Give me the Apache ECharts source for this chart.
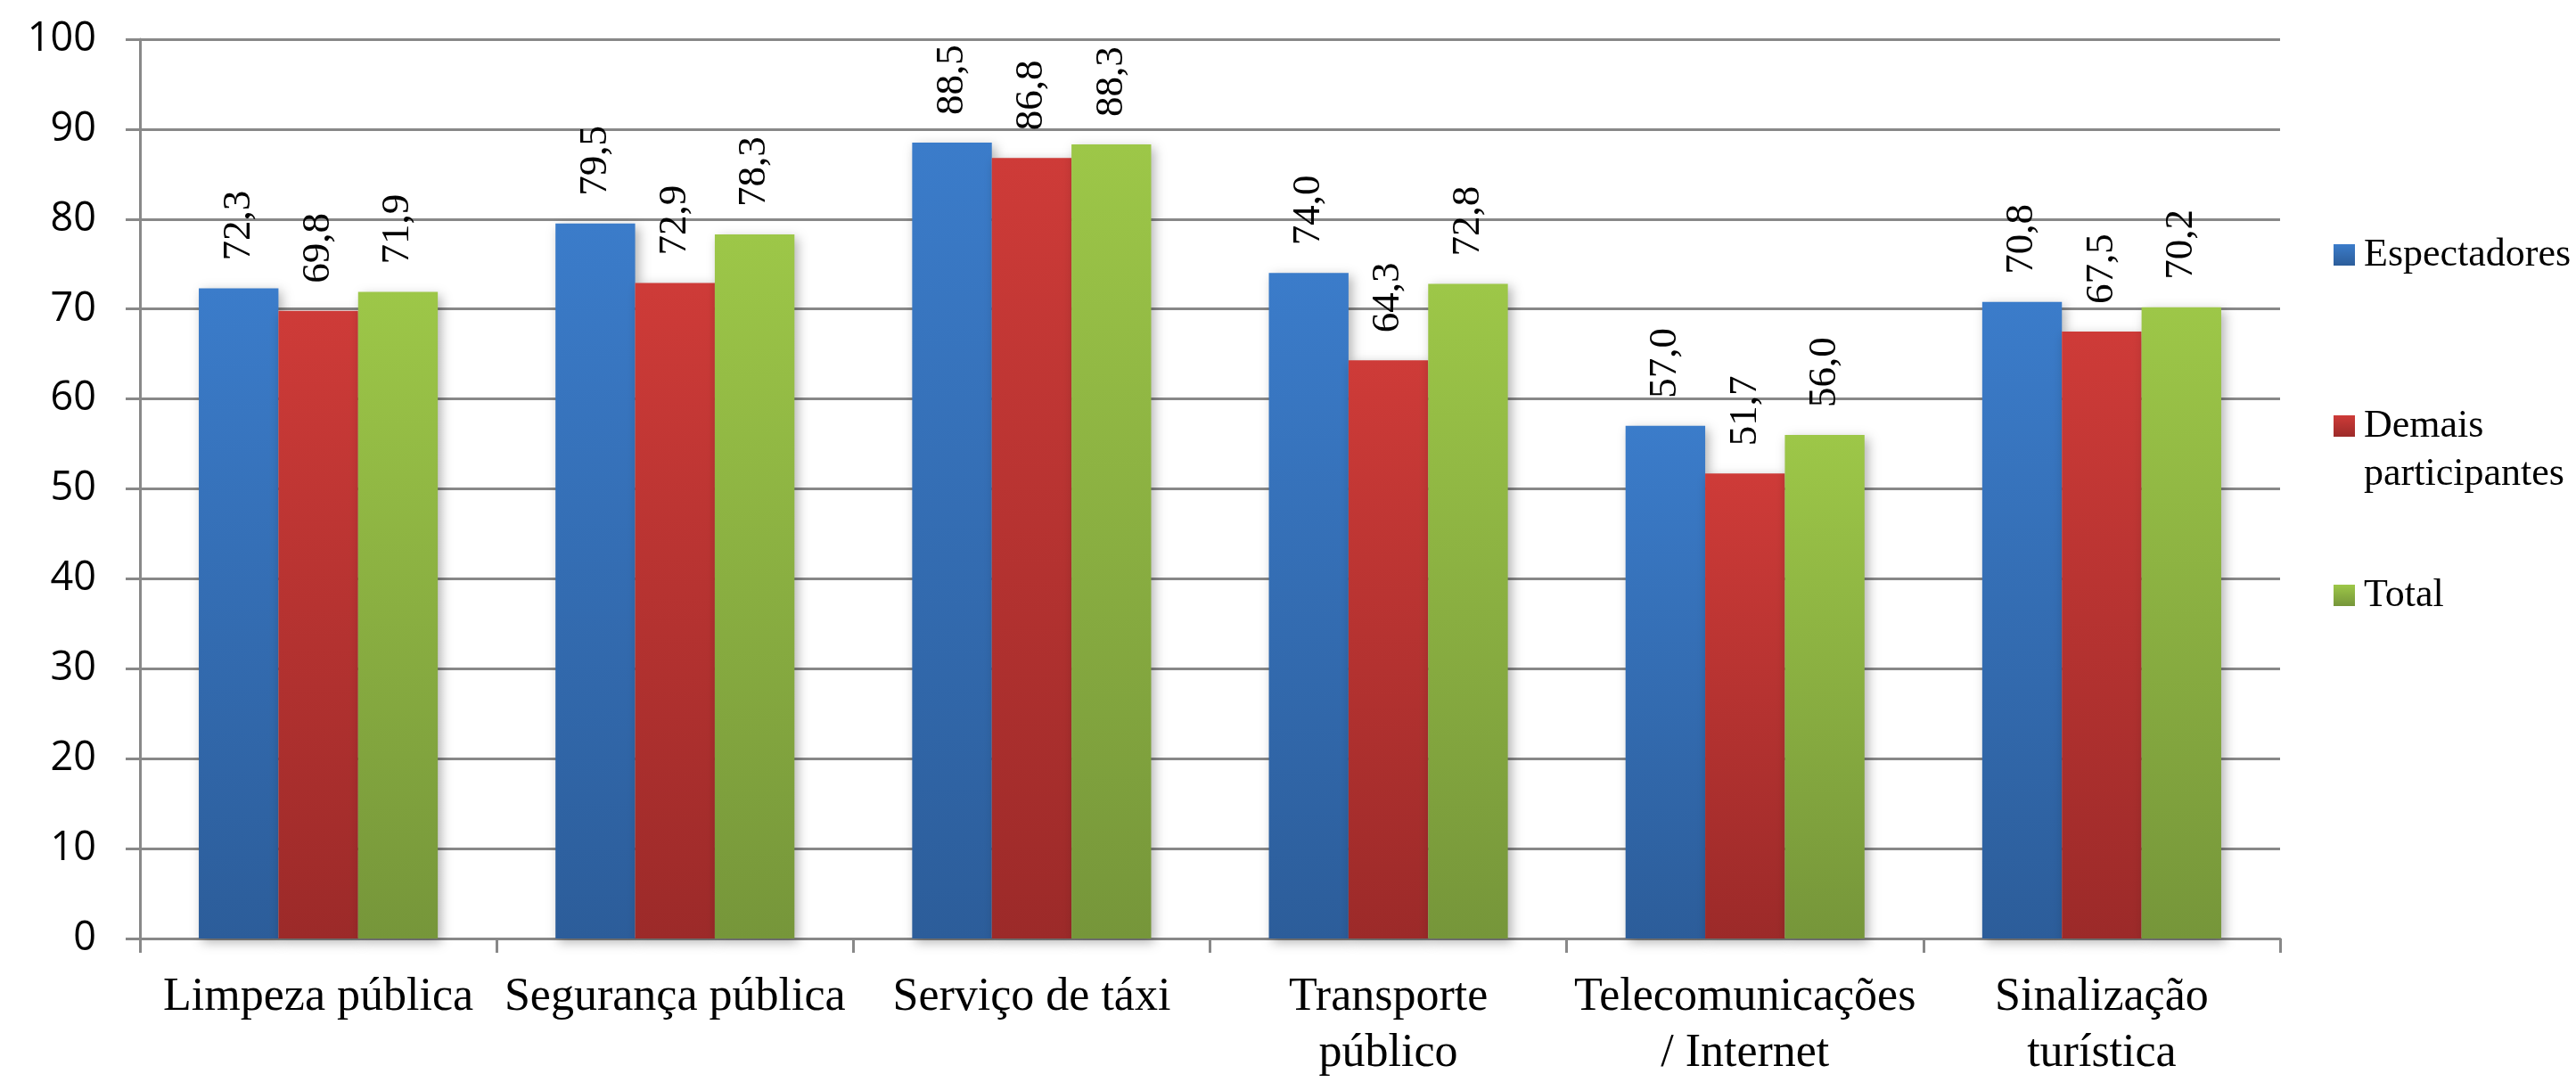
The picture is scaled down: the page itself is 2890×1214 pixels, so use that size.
<!DOCTYPE html>
<html>
<head>
<meta charset="utf-8">
<script src="https://cdn.jsdelivr.net/npm/echarts@6/dist/echarts.min.js"></script>
<style>
html,body{margin:0;padding:0;background:#fff;}
#chart{width:2890px;height:1214px;}
</style>
</head>
<body>
<div id="chart"></div>
<script>
const categories = ['Limpeza pública', 'Segurança pública', 'Serviço de táxi', 'Transporte\npúblico', 'Telecomunicações\n/ Internet', 'Sinalização\nturística'];
const seriesNames = ['Espectadores', 'Demais participantes', 'Total'];
const espectadores = [72.3, 79.5, 88.5, 74.0, 57.0, 70.8];
const demais = [69.8, 72.9, 86.8, 64.3, 51.7, 67.5];
const total = [71.9, 78.3, 88.3, 72.8, 56.0, 70.2];
const yTicks = [0, 10, 20, 30, 40, 50, 60, 70, 80, 90, 100];

const serif = 'Liberation Serif';
const gradients = [
  ['#3b7cca', '#2c5d9a'],
  ['#ce3b38', '#9c2a29'],
  ['#9dc748', '#76963a']
];
function grad(c) {
  return new echarts.graphic.LinearGradient(0, 0, 0, 1, [
    {offset: 0, color: c[0]}, {offset: 1, color: c[1]}
  ]);
}
const values = [espectadores, demais, total];
const series = seriesNames.map((name, i) => ({
  name: name,
  type: 'bar',
  data: values[i],
  barGap: '0%',
  barCategoryGap: '33%',
  itemStyle: {
    color: grad(gradients[i]),
    shadowBlur: 12,
    shadowOffsetX: 4,
    shadowOffsetY: 4,
    shadowColor: 'rgba(0,0,0,0.3)'
  },
  label: {
    show: true,
    position: 'top',
    rotate: 90,
    align: 'left',
    verticalAlign: 'middle',
    distance: 31,
    fontFamily: serif,
    fontSize: 45,
    color: '#000',
    formatter: p => p.value.toFixed(1).replace('.', ',')
  }
}));

const legendText = {fontFamily: serif, fontSize: 44, color: '#000', lineHeight: 54, padding: [0, 0, 0, 5]};
const legendBase = {
  orient: 'vertical',
  left: 2618,
  padding: 0,
  itemWidth: 24,
  itemHeight: 24,
  itemGap: 10,
  icon: 'rect',
  selectedMode: false,
  textStyle: legendText
};

const chart = echarts.init(document.getElementById('chart'), null, {renderer: 'canvas'});
chart.setOption({
  animation: false,
  backgroundColor: '#fff',
  grid: {left: 157, right: 332, top: 44, bottom: 158, containLabel: false},
  legend: [
    Object.assign({}, legendBase, {top: 259, data: ['Espectadores']}),
    Object.assign({}, legendBase, {
      top: 397,
      data: ['Demais participantes'],
      formatter: () => '\nDemais\nparticipantes'
    }),
    Object.assign({}, legendBase, {top: 641, data: ['Total']})
  ],
  xAxis: {
    type: 'category',
    data: categories,
    axisLine: {show: true, lineStyle: {color: '#888', width: 3}},
    axisTick: {show: true, length: 16, lineStyle: {color: '#888', width: 3}},
    axisLabel: {
      interval: 0,
      margin: 35,
      fontFamily: serif,
      fontSize: 52,
      lineHeight: 63,
      color: '#000',
      verticalAlign: 'top'
    },
    splitLine: {show: false}
  },
  yAxis: {
    type: 'value',
    min: yTicks[0],
    max: yTicks[yTicks.length - 1],
    interval: 10,
    axisLine: {show: true, lineStyle: {color: '#888', width: 3}},
    axisTick: {show: true, length: 16, lineStyle: {color: '#888', width: 3}},
    axisLabel: {margin: 49, fontFamily: 'Open Sans', fontSize: 45, color: '#000'},
    splitLine: {show: true, lineStyle: {color: '#888', width: 3}}
  },
  series: series
});
</script>
</body>
</html>
